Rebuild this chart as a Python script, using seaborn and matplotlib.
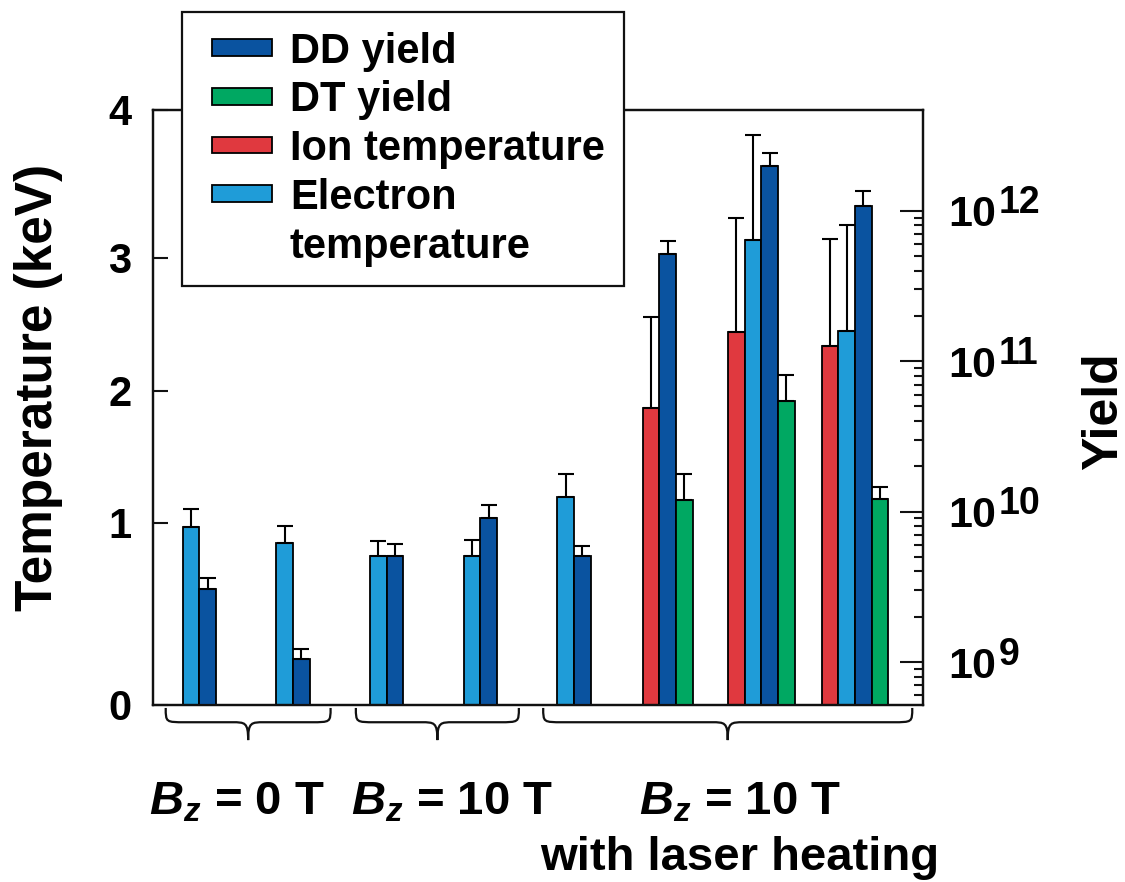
import numpy as np
import pandas as pd
import matplotlib
matplotlib.use("Agg")
import matplotlib.pyplot as plt
import seaborn as sns
from matplotlib.patches import Patch, Rectangle, PathPatch
from matplotlib.path import Path
from matplotlib.legend_handler import HandlerPatch
from matplotlib.ticker import FixedLocator, FuncFormatter, NullFormatter
import matplotlib.transforms as mtransforms

# ---------------- data ----------------
nan = np.nan
shots = ["0T-a", "0T-b", "10T-a", "10T-b", "10T+LH-a", "10T+LH-b", "10T+LH-c", "10T+LH-d"]
te_kev = [0.98, 0.89, 0.82, 0.82, 1.20, nan, 3.12, 2.45]
te_err = [0.125, 0.095, 0.08, 0.085, 0.17, nan, 0.71, 0.77]
ti_kev = [nan, nan, nan, nan, nan, 1.87, 2.44, 2.34]
ti_err = [nan, nan, nan, nan, nan, 0.69, 0.83, 0.79]
dd_yield = [3.07e9, 1.04e9, 5.05e9, 9.0e9, 5.03e9, 5.2e11, 1.98e12, 1.07e12]
dd_err = [0.53e9, 0.18e9, 1.02e9, 2.0e9, 0.9e9, 1.1e11, 0.43e12, 0.29e12]
dt_yield = [nan, nan, nan, nan, nan, 1.19e10, 5.4e10, 1.21e10]
dt_err = [nan, nan, nan, nan, nan, 0.59e10, 2.7e10, 0.25e10]

temp_ticks = [0, 1, 2, 3, 4]
yield_ticks = [1e9, 1e10, 1e11, 1e12]
group_texts = [r"$B_z$ = 0 T", r"$B_z$ = 10 T", r"$B_z$ = 10 T"]
group_subtext = "with laser heating"
legend_labels = ["DD yield", "DT yield", "Ion temperature", "Electron", "temperature"]

# ---------------- styling / layout ----------------
LBLUE = "#1F9CD8"
DBLUE = "#0A53A0"
RED = "#E0393F"
GREEN = "#00A862"
INK = "#111111"
BAR_W = 0.178
# the reference's temperature axis is not evenly spaced: pixel height of each tick
TEMP_PIX = [0, 182, 314, 447, 595]
YIELD_LIM = (5.18e8, 4.68e12)

sns.set_theme(style="white")
plt.rcParams["font.family"] = ["Liberation Sans", "DejaVu Sans"]
plt.rcParams["font.weight"] = "bold"
plt.rcParams["text.color"] = "black"
plt.rcParams["axes.labelcolor"] = "black"
plt.rcParams["xtick.color"] = "black"
plt.rcParams["ytick.color"] = "black"
plt.rcParams["mathtext.fontset"] = "custom"
plt.rcParams["mathtext.rm"] = "Liberation Sans:bold"
plt.rcParams["mathtext.bf"] = "Liberation Sans:bold"
plt.rcParams["mathtext.it"] = "Liberation Sans:italic:bold"

series = [
    ("Ion temperature", ti_kev, ti_err, "temp", RED),
    ("Electron temperature", te_kev, te_err, "temp", LBLUE),
    ("DD yield", dd_yield, dd_err, "yield", DBLUE),
    ("DT yield", dt_yield, dt_err, "yield", GREEN),
]

rows = []
for i in range(len(shots)):
    present = [s for s in series if not np.isnan(s[1][i])]
    n = len(present)
    for k, s in enumerate(present):
        rows.append(dict(series=s[0], pos=i + (k - (n - 1) / 2) * BAR_W,
                         value=s[1][i], err=s[2][i], axis=s[3]))
df = pd.DataFrame(rows)

fig = plt.figure(figsize=(11.25, 8.82), dpi=100)
ax = fig.add_axes([0.1364, 0.2007, 0.6844, 0.6746])
ax2 = ax.twinx()

for name, _, _, axis, color in series:
    sub = df[df["series"] == name].sort_values("pos")
    target = ax if axis == "temp" else ax2
    ux = np.unique(sub["pos"])
    nw = np.diff(ux).min() if len(ux) > 1 else 1.0
    sns.barplot(data=sub, x="pos", y="value", native_scale=True, orient="x",
                width=BAR_W / nw, color=color, saturation=1, edgecolor="black",
                linewidth=1.3, errorbar=None, ax=target, zorder=2)
    target.errorbar(sub["pos"], sub["value"],
                    yerr=[np.zeros(len(sub)), sub["err"].to_numpy()],
                    fmt="none", ecolor="black", elinewidth=1.5, capsize=6,
                    capthick=1.5, zorder=3)

# temperature axis (piecewise spacing as in the reference)
fwd = lambda v: np.interp(v, temp_ticks, TEMP_PIX)
inv = lambda p: np.interp(p, TEMP_PIX, temp_ticks)
ax.set_yscale("function", functions=(fwd, inv))
ax.set_ylim(0, 4)
ax.yaxis.set_major_locator(FixedLocator(temp_ticks))
ax.yaxis.set_major_formatter(FuncFormatter(lambda v, _: f"{v:g}"))
ax.yaxis.set_minor_locator(FixedLocator([]))

ax2.set_yscale("log")
ax2.set_ylim(*YIELD_LIM)
ax2.yaxis.set_major_locator(FixedLocator(yield_ticks))
ax2.yaxis.set_major_formatter(NullFormatter())
minors = [m * 10.0 ** e for e in range(8, 12) for m in range(2, 10)]
minors = [v for v in minors if YIELD_LIM[0] <= v <= max(yield_ticks)]
ax2.yaxis.set_minor_locator(FixedLocator(minors))
ax2.yaxis.set_minor_formatter(NullFormatter())

# power-of-ten labels with a large exponent, as in the reference
for v in yield_ticks:
    ax2.annotate("10", xy=(1, v), xycoords=("axes fraction", "data"),
                 xytext=(18, -11.2), textcoords="offset points",
                 ha="left", va="baseline", fontsize=31, fontweight="bold",
                 color="black", annotation_clip=False)
    ax2.annotate(f"{int(round(np.log10(v)))}", xy=(1, v),
                 xycoords=("axes fraction", "data"),
                 xytext=(54.5, -1.8), textcoords="offset points",
                 ha="left", va="baseline", fontsize=27, fontweight="bold",
                 color="black", annotation_clip=False)

ax.set_xlim(-0.491, 7.729)
ax.set_xticks([])
ax.set_xlabel("")
ax2.set_xlabel("")

for a in (ax, ax2):
    for sp in a.spines.values():
        sp.set_linewidth(1.6)
        sp.set_color(INK)
        sp.set_visible(True)

ax.tick_params(axis="y", which="major", direction="in", length=11, width=1.5,
               labelsize=30, pad=16, color=INK, labelcolor="black",
               left=True, right=False)
ax2.tick_params(axis="y", which="major", direction="in", length=16.5, width=1.5,
                color=INK, right=True, left=False)
ax2.tick_params(axis="y", which="minor", direction="in", length=6.5, width=1.5,
                color=INK, right=True, left=False)

ax.set_ylabel("Temperature (keV)", fontsize=37, fontweight="bold", color="black")
ax.yaxis.set_label_coords(-0.118, 0.534)
ax2.set_ylabel("Yield", fontsize=36, fontweight="bold", rotation=90, color="black")
ax2.yaxis.set_label_coords(1.2045, 0.494)

# braces under the groups
BRACES = [(-0.36, 1.40), (1.67, 3.41), (3.67, 7.61)]
trans = mtransforms.blended_transform_factory(ax.transData, ax.transAxes)
y_top, y_mid, y_tip = -0.005, -0.029, -0.059
a_end, b_mid = 0.21, 0.17
for x0, x1 in BRACES:
    xm = (x0 + x1) / 2
    verts = [(x0, y_top), (x0, y_mid), (x0, y_mid), (x0 + a_end, y_mid),
             (xm - b_mid, y_mid),
             (xm - b_mid * 0.2, y_mid), (xm, y_mid), (xm, y_tip),
             (xm, y_tip),
             (xm, y_mid), (xm + b_mid * 0.2, y_mid), (xm + b_mid, y_mid),
             (x1 - a_end, y_mid),
             (x1, y_mid), (x1, y_mid), (x1, y_top)]
    codes = [Path.MOVETO, Path.CURVE4, Path.CURVE4, Path.CURVE4,
             Path.LINETO,
             Path.CURVE4, Path.CURVE4, Path.CURVE4,
             Path.MOVETO,
             Path.CURVE4, Path.CURVE4, Path.CURVE4,
             Path.LINETO,
             Path.CURVE4, Path.CURVE4, Path.CURVE4]
    ax.add_patch(PathPatch(Path(verts, codes), transform=trans, fill=False,
                           edgecolor=INK, linewidth=1.6, clip_on=False))

TEXT_X = [237 / 1125, 452 / 1125, 740 / 1125]
for x, t in zip(TEXT_X, group_texts):
    fig.text(x, 1 - 815 / 882, t, ha="center", va="baseline", fontsize=34,
             fontweight="bold", color="black")
fig.text(TEXT_X[2], 1 - 870 / 882, group_subtext, ha="center", va="baseline",
         fontsize=34, fontweight="bold", color="black")

# legend
class OffsetPatchHandler(HandlerPatch):
    def __init__(self, shift, **kw):
        super().__init__(**kw)
        self.shift = shift

    def create_artists(self, legend, orig_handle, xdescent, ydescent, width,
                       height, fontsize, trans):
        s = self.shift * fontsize
        p = Rectangle((-xdescent + s, -ydescent), width - s, height,
                      facecolor=orig_handle.get_facecolor(),
                      edgecolor=orig_handle.get_edgecolor(),
                      linewidth=orig_handle.get_linewidth(), transform=trans)
        return [p]

handles = [Patch(facecolor=DBLUE, edgecolor="black", linewidth=1.3),
           Patch(facecolor=GREEN, edgecolor="black", linewidth=1.3),
           Patch(facecolor=RED, edgecolor="black", linewidth=1.3),
           Patch(facecolor=LBLUE, edgecolor="black", linewidth=1.3),
           Patch(facecolor="none", edgecolor="none", linewidth=0)]
hm = {h: OffsetPatchHandler(0.25) for h in handles}
leg = fig.legend(handles, legend_labels, loc="upper left",
                 bbox_to_anchor=(182 / 1125, 1 - 12 / 882),
                 bbox_transform=fig.transFigure, borderaxespad=0,
                 borderpad=0.47, handlelength=1.69, handleheight=0.24,
                 handletextpad=0.43, labelspacing=0.21, fontsize=30,
                 frameon=True, fancybox=False, handler_map=hm)
leg.get_frame().set_edgecolor(INK)
leg.get_frame().set_linewidth(1.6)
leg.get_frame().set_facecolor("white")
leg.get_frame().set_alpha(1)
for t in leg.get_texts():
    t.set_fontweight("bold")
    t.set_color("black")

fig.savefig("out.png", dpi=100)
